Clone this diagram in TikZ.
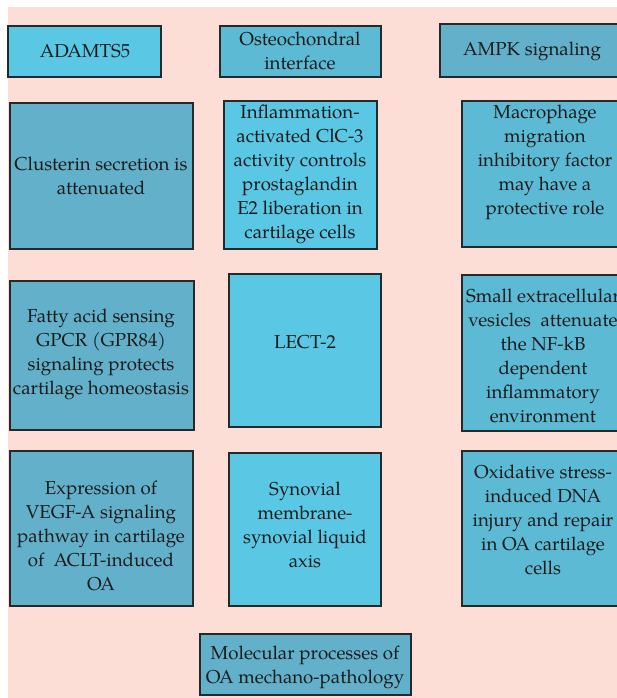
\documentclass[tikz,border=0pt]{standalone}
\usepackage{fontspec}
\setmainfont{TeX Gyre Pagella}
\definecolor{bgpink}{RGB}{252,222,215}
\definecolor{cbright}{RGB}{90,199,228}
\definecolor{cmed}{RGB}{92,186,213}
\definecolor{cdark}{RGB}{98,176,202}
\definecolor{edge}{RGB}{40,40,40}
\definecolor{ink}{RGB}{28,28,28}
\tikzset{
  box/.style={draw=edge, line width=1.8bp, rectangle, inner sep=0pt},
  txt/.style={align=center, inner sep=0pt, text=ink, font=\fontsize{18.7bp}{24bp}\selectfont},
}
\begin{document}
\begin{tikzpicture}[x=1bp,y=-1bp]
\useasboundingbox (0,0) rectangle (617,698);
\begin{scope}
\clip (0,0) rectangle (617,698);
\fill[bgpink] (8,7) rectangle (630,710);
% row 0
\node[box, fill=cbright, minimum width=153bp, minimum height=51bp] (b1) at (84.5,51.5) {};
\node[txt] (t1) at (85,51.5) {ADAMTS5};
\node[box, fill=cmed, minimum width=161bp, minimum height=51bp] (b2) at (300.5,51.5) {};
\node[txt] (t2) at (300,50.5) {Osteochondral\\interface};
\node[box, fill=cdark, minimum width=185bp, minimum height=53bp] (b3) at (532.5,50.5) {};
\node[txt] (t3) at (532,51.5) {AMPK signaling};
% row 1
\node[box, fill=cdark, minimum width=183bp, minimum height=146bp] (b4) at (101.5,176) {};
\node[txt] (t4) at (101,175.5) {Clusterin secretion is\\attenuated};
\node[box, fill=cbright, minimum width=153bp, minimum height=148bp] (b5) at (300.5,175) {};
\node[txt] (t5) at (300,174) {Inflammation-\\activated ClC-3\\activity controls\\prostaglandin\\E2 liberation in\\cartilage cells};
\node[box, fill=cmed, minimum width=166bp, minimum height=146bp] (b6) at (545,174) {};
\node[txt] (t6) at (545,162) {Macrophage\\migration\\inhibitory factor\\may have a\\protective role};
% row 2
\node[box, fill=cdark, minimum width=184bp, minimum height=149bp] (b7) at (102,355.5) {};
\node[txt] (t7) at (101,354) {Fatty acid sensing\\GPCR (GPR84)\\signaling protects\\cartilage homeostasis};
\node[box, fill=cbright, minimum width=152bp, minimum height=153bp] (b8) at (305,350.5) {};
\node[txt] (t8) at (305,342) {LECT-2};
\node[box, fill=cmed, minimum width=162bp, minimum height=156bp] (b9) at (543,353) {};
\node[txt] (t9) at (543,355.5) {Small extracellular\\vesicles\ \ attenuate\\the NF-kB\\dependent\\inflammatory\\environment};
% row 3
\node[box, fill=cdark, minimum width=183bp, minimum height=155bp] (b10) at (101.5,528.5) {};
\node[txt] (t10) at (101,535.5) {Expression of\\VEGF-A signaling\\pathway in cartilage\\of\ \ ACLT-induced\\OA};
\node[box, fill=cbright, minimum width=152bp, minimum height=153bp] (b11) at (305,529.5) {};
\node[txt] (t11) at (305,524.5) {Synovial\\membrane-\\synovial liquid\\axis};
\node[box, fill=cmed, minimum width=162bp, minimum height=155bp] (b12) at (543,528.5) {};
\node[txt] (t12) at (543,519.5) {Oxidative stress-\\induced DNA\\injury and repair\\in OA cartilage\\cells};
% bottom
\node[box, fill=cdark, minimum width=211bp, minimum height=61bp] (b13) at (305.5,664.5) {};
\node[txt] (t13) at (305,667.5) {Molecular processes of\\OA mechano-pathology};
\end{scope}
\end{tikzpicture}
\end{document}
